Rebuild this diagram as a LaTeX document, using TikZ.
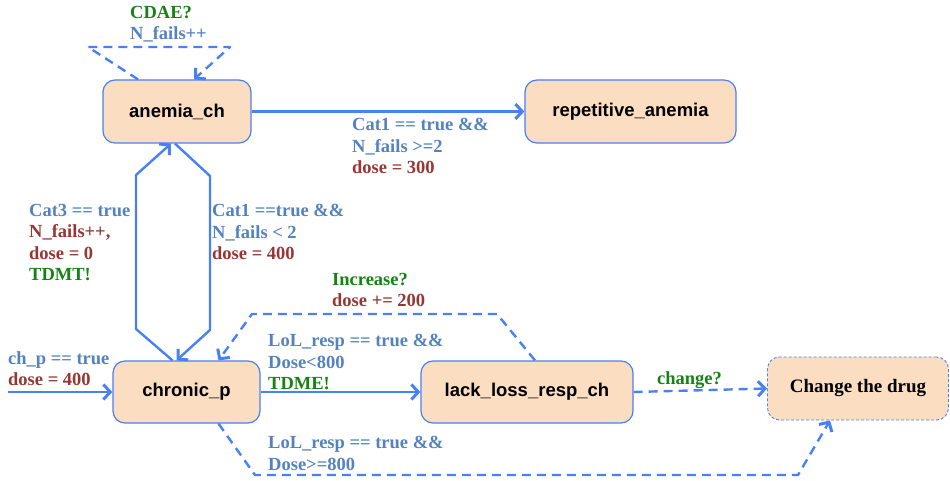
\documentclass[tikz,border=0pt]{standalone}
\usepackage{fontspec}
\setmainfont{Liberation Serif}
\newfontfamily\nodefont{Liberation Sans}
\usetikzlibrary{arrows.meta,calc}
\definecolor{fillc}{RGB}{251,221,193}
\definecolor{linec}{RGB}{72,128,246}
\definecolor{lblue}{RGB}{84,130,192}
\definecolor{lred}{RGB}{150,55,52}
\definecolor{lgreen}{RGB}{22,130,22}
\begin{document}
\begin{tikzpicture}[x=1pt,y=-1pt,
  stbox/.style={draw=linec, line width=1.2pt, fill=fillc, rounded corners=12pt,
    minimum width=#1, minimum height=63pt, inner sep=0pt,
    font=\nodefont\bfseries\fontsize{18.5}{22}\selectfont},
  lbl/.style={anchor=north west, inner sep=0pt, align=left,
    font=\bfseries\fontsize{18.5}{21.5}\selectfont},
  conn/.style={draw=linec, line width=2.4pt, line join=round,
    -{Straight Barb[length=7pt,width=15pt,line width=3pt]}},
  dsh/.style={dash pattern=on 9pt off 6pt}
]
\useasboundingbox (0,0) rectangle (950,481);

% states
\node[stbox=148pt] (anemia) at (177,111.5) {anemia\_ch};
\node[stbox=211pt] (rep) at (630.5,111.5) {repetitive\_anemia};
\node[stbox=147pt, minimum height=62pt] (chron) at (186.5,392) {chronic\_p};
\node[stbox=212pt, minimum height=62pt] (lack) at (527,392) {lack\_loss\_resp\_ch};
\node[stbox=181pt, line width=0.9pt, dash pattern=on 3pt off 2pt,
  font=\bfseries\fontsize{19}{22}\selectfont] (change) at (858,388.5) {Change the drug};

% coordinates
\coordinate (start) at (8,392);
\coordinate (l1) at (88,47);
\coordinate (l2) at (230,47);
\coordinate (hl1) at (136,329);
\coordinate (hl2) at (136,175);
\coordinate (hr1) at (210,176);
\coordinate (hr2) at (210,330);
\coordinate (i1) at (497,314);
\coordinate (i2) at (252,314);
\coordinate (c1) at (255,475);
\coordinate (c2) at (798,475);

% connectors
\draw[conn,dsh] ($(anemia.north)+(-39,0)$) -- (l1) -- (l2) -- ($(anemia.north)+(17,0)$);
\draw[conn] (anemia.east) -- (rep.west);
\draw[conn] ($(chron.north)+(-14,0)$) -- (hl1) -- (hl2) -- ($(anemia.south)+(-6,0)$);
\draw[conn] ($(anemia.south)+(-2,0)$) -- (hr1) -- (hr2) -- ($(chron.north)+(-10,0)$);
\draw[conn,dsh] ($(lack.north)+(8,0)$) -- (i1) -- (i2) -- ($(chron.north)+(32,0)$);
\draw[conn] (chron.east) -- (lack.west);
\draw[conn,dsh] (lack.east) -- (change.west);
\draw[conn,dsh] ($(chron.south)+(32,0)$) -- (c1) -- (c2) -- ($(change.south)+(-28,0)$);
\draw[conn] (start) -- (chron.west);

% labels
\node[lbl] (t1) at (130,6) {\textcolor{lgreen}{CDAE?}\\\textcolor{lblue}{N\_fails++}};
\node[lbl] (t2) at (352,118) {\textcolor{lblue}{Cat1 == true \&\&}\\\textcolor{lblue}{N\_fails >=2}\\\textcolor{lred}{dose = 300}};
\node[lbl] (t3) at (29,204) {\textcolor{lblue}{Cat3 == true}\\\textcolor{lred}{N\_fails++,}\\\textcolor{lred}{dose = 0}\\\textcolor{lgreen}{TDMT!}};
\node[lbl] (t4) at (212,204) {\textcolor{lblue}{Cat1 ==true \&\&}\\\textcolor{lblue}{N\_fails < 2}\\\textcolor{lred}{dose = 400}};
\node[lbl] (t5) at (332,273) {\textcolor{lgreen}{Increase?}\\\textcolor{lred}{dose += 200}};
\node[lbl] (t6) at (268,334) {\textcolor{lblue}{LoL\_resp == true \&\&}\\\textcolor{lblue}{Dose<800}\\\textcolor{lgreen}{TDME!}};
\node[lbl] (t7) at (8,351) {\textcolor{lblue}{ch\_p == true}\\\textcolor{lred}{dose = 400}};
\node[lbl] (t8) at (268,436) {\textcolor{lblue}{LoL\_resp == true \&\&}\\\textcolor{lblue}{Dose>=800}};
\node[lbl] (t9) at (657,371) {\textcolor{lgreen}{change?}};
\end{tikzpicture}
\end{document}
